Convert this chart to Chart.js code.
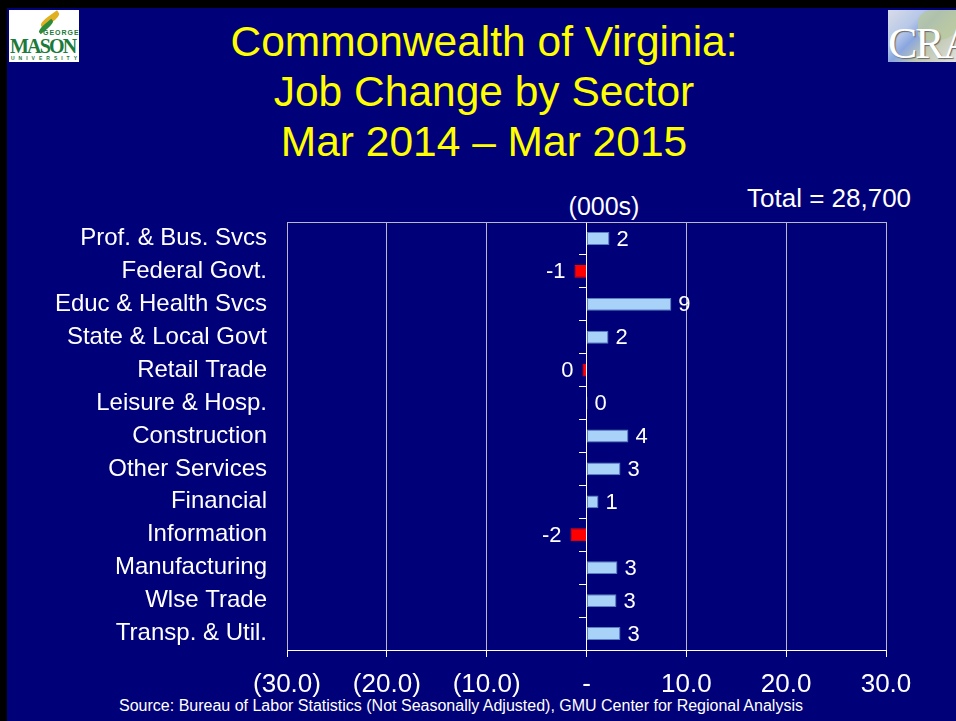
<!DOCTYPE html>
<html>
<head>
<meta charset="utf-8">
<title>Commonwealth of Virginia: Job Change by Sector</title>
<script src="https://cdn.jsdelivr.net/npm/chart.js@4.4.0/dist/chart.umd.min.js"></script>
<style>
  html, body { margin: 0; padding: 0; background: #000; width: 956px; height: 721px; overflow: hidden; }
  body { font-family: "Liberation Sans", Arial, sans-serif; }
  #slide { position: absolute; left: 7px; top: 8px; width: 949px; height: 713px; background: #000078; }
  #chart { position: absolute; left: 0; top: 0; }
  .txt { position: absolute; white-space: nowrap; color: #fff; }
  #title { left: 184px; width: 600px; top: 17px; text-align: center; color: #ffff00; font-size: 42.5px; line-height: 50px; }
  #units { left: 544px; width: 120px; top: 194px; text-align: center; font-size: 25px; line-height: 25px; }
  #total { left: 747px; top: 185px; font-size: 26px; line-height: 26px; }
  #source { left: 61px; width: 800px; top: 698px; text-align: center; font-size: 16px; line-height: 16px; }
  #gmu { position: absolute; left: 9px; top: 10px; width: 70px; height: 52px; background: #fff; overflow: hidden; }
  #gmu .swoosh { position: absolute; left: 30px; top: 6px; width: 22px; height: 7px; background: #e0b020; border-radius: 50% 0; transform: rotate(-35deg); }
  #gmu .swoosh2 { position: absolute; left: 28px; top: 14px; width: 18px; height: 5px; background: #2e8b3a; border-radius: 50% 0; transform: rotate(-40deg); }
  #gmu .george { position: absolute; left: 34px; top: 19px; font-size: 7px; font-weight: bold; color: #1c7a3a; letter-spacing: 1px; }
  #gmu .mason { position: absolute; left: 1px; top: 25px; font-size: 20px; font-weight: bold; color: #1c7a3a; letter-spacing: -1.8px; font-family: "Liberation Serif", serif; }
  #gmu .univ { position: absolute; left: 2px; top: 45px; font-size: 5px; font-weight: bold; color: #1c7a3a; letter-spacing: 4px; }
  #cra { position: absolute; left: 888px; top: 10px; width: 68px; height: 52px; overflow: hidden;
         background: linear-gradient(135deg, #d8dce8 0%, #b8c8e8 30%, #8aa6e0 45%, #c0c8b0 65%, #e0e0e0 100%); }
  #cra .map { position: absolute; left: 30px; top: 0; width: 40px; height: 30px; background: #b8c8a0; border-radius: 40% 10% 50% 20%; opacity: 0.8; }
  #cra .word { position: absolute; left: 0; top: 12px; font-family: "Liberation Serif", serif; font-size: 44px; line-height: 44px; color: #fff; text-shadow: 1px 1px 1px #666; letter-spacing: -2px; }
</style>
</head>
<body>
<div id="slide"></div>
<div id="gmu"><div class="swoosh"></div><div class="swoosh2"></div><div class="george">GEORGE</div><div class="mason">MASON</div><div class="univ">UNIVERSITY</div></div>
<div id="cra"><div class="map"></div><div class="word">CRA</div></div>
<div id="title" class="txt">Commonwealth of Virginia:<br>Job Change by Sector<br>Mar 2014 – Mar 2015</div>
<div id="units" class="txt">(000s)</div>
<div id="total" class="txt">Total = 28,700</div>
<div id="source" class="txt">Source: Bureau of Labor Statistics (Not Seasonally Adjusted), GMU Center for Regional Analysis</div>
<canvas id="chart" width="956" height="721"></canvas>
<script>
// Sectors, top to bottom
const sectors = [
  "Prof. & Bus. Svcs", "Federal Govt.", "Educ & Health Svcs", "State & Local Govt",
  "Retail Trade", "Leisure & Hosp.", "Construction", "Other Services",
  "Financial", "Information", "Manufacturing", "Wlse Trade", "Transp. & Util.",
];

// Job change, thousands
const jobChange = [2.3, -1.2, 8.5, 2.2, -0.4, 0.1, 4.2, 3.4, 1.2, -1.6, 3.1, 3.0, 3.4];

// x axis
const xTicks = [-30, -20, -10, 0, 10, 20, 30];
const xTickLabels = ["(30.0)", "(20.0)", "(10.0)", "-", "10.0", "20.0", "30.0"];

const fontFamily = '"Liberation Sans", Arial, sans-serif';
Chart.defaults.font.family = fontFamily;

// value labels next to each bar
const barLabels = {
  id: "barLabels",
  afterDatasetsDraw(chart) {
    const ctx = chart.ctx;
    const meta = chart.getDatasetMeta(0);
    ctx.save();
    ctx.font = "22px " + fontFamily;
    ctx.fillStyle = "#ffffff";
    ctx.textBaseline = "middle";
    meta.data.forEach((bar, i) => {
      const v = jobChange[i];
      const txt = String(Math.round(v) || 0);
      if (v < 0) {
        ctx.textAlign = "right";
        ctx.fillText(txt, bar.x - 9, bar.y + 1);
      } else {
        ctx.textAlign = "left";
        ctx.fillText(txt, bar.x + 7, bar.y + 1);
      }
    });
    ctx.restore();
  },
};

// top edge of the plot box
const topBorder = {
  id: "topBorder",
  beforeDatasetsDraw(chart) {
    const { ctx, chartArea } = chart;
    ctx.save();
    ctx.strokeStyle = "#b8b8c8";
    ctx.lineWidth = 1;
    ctx.beginPath();
    ctx.moveTo(chartArea.left, chartArea.top + 0.5);
    ctx.lineTo(chartArea.right, chartArea.top + 0.5);
    ctx.stroke();
    ctx.restore();
  },
};

new Chart(document.getElementById("chart"), {
  type: "bar",
  plugins: [barLabels, topBorder],
  data: {
    labels: sectors,
    datasets: [{
      data: jobChange,
      backgroundColor: jobChange.map(v => v < 0 ? "#ff0000" : "#a8d2f8"),
      borderColor: jobChange.map(v => v < 0 ? "#ff0000" : "#5a7fc0"),
      borderWidth: 1,
      borderSkipped: false,
      barPercentage: 0.39,
      categoryPercentage: 1.0,
    }],
  },
  options: {
    indexAxis: "y",
    responsive: false,
    animation: false,
    devicePixelRatio: 1,
    layout: { padding: { left: 0, top: 222, right: 70, bottom: 0 } },
    plugins: { legend: { display: false }, tooltip: { enabled: false } },
    scales: {
      x: {
        type: "linear",
        min: -30,
        max: 30,
        afterBuildTicks: (scale) => { scale.ticks = xTicks.map(v => ({ value: v })); },
        afterFit: (scale) => { scale.height = 71; },
        ticks: {
          color: "#ffffff",
          font: { size: 26 },
          padding: 12,
          maxRotation: 0,
          callback: (v) => xTickLabels[xTicks.indexOf(v)],
        },
        grid: {
          color: (c) => c.tick && c.tick.value === 0 ? "#ffffff" : "#b8b8c8",
          tickColor: "#ffffff",
          tickLength: 7,
          lineWidth: 1,
        },
        border: { color: "#ffffff", width: 1 },
      },
      y: {
        type: "category",
        afterFit: (scale) => { scale.width = 287; },
        grid: { display: false, drawTicks: false },
        border: { display: false },
        ticks: { color: "#ffffff", font: { size: 24 }, padding: 20, autoSkip: false },
      },
      y2: {
        axis: "y",
        type: "category",
        position: { x: 0 },
        offset: true,
        grid: { drawOnChartArea: false, drawTicks: true, tickLength: 7, color: "#ffffff", offset: true },
        border: { display: true, color: "#ffffff", width: 1 },
        ticks: { display: false },
      },
    },
  },
});
</script>
</body>
</html>
